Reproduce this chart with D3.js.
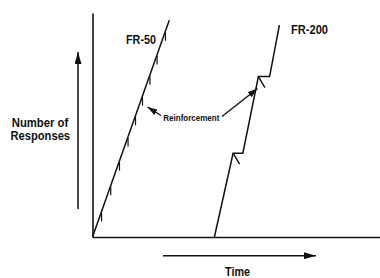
<!DOCTYPE html>
<html>
<head>
<meta charset="utf-8">
<script src="https://cdn.jsdelivr.net/npm/d3@7"></script>
<style>
  html, body { margin: 0; padding: 0; background: #fff; }
  svg { display: block; }
  text { font-family: "Liberation Sans Narrow", "Arial Narrow", "Liberation Sans", sans-serif; font-weight: bold; fill: #111; }
</style>
</head>
<body>
<svg id="chart" width="380" height="278"></svg>
<script>
// cumulative record, FR-50 schedule (time, cumulative responses)
const fr50Time = [0, 26.7];
const fr50Resp = [0, 484];
const fr50ReinfResp = [54, 112, 167, 221, 268, 312, 359, 404, 457];

// FR-200 schedule, flat parts are the pauses after reinforcement
const fr200Time = [42.4, 48.9, 52.3, 57.7, 61.6, 65.0];
const fr200Resp = [0, 187, 187, 358, 358, 473];
const fr200ReinfTime = [48.9, 57.7];
const fr200ReinfResp = [187, 358];

const labels = {
  fr50: "FR-50",
  fr200: "FR-200",
  yTitle: ["Number of", "Responses"],
  xTitle: "Time",
  reinf: "Reinforcement"
};

const svg = d3.select("#chart"),
  ink = "#111",
  origin = {x: 92.5, y: 237};

const x = d3.scaleLinear().domain([0, 100]).range([origin.x, 380]);
const y = d3.scaleLinear().domain([0, 500]).range([origin.y, 13]);

// arrowhead marker
const defs = svg.append("defs");
function addMarker(id, len, half) {
  defs.append("marker")
    .attr("id", id)
    .attr("markerUnits", "userSpaceOnUse")
    .attr("viewBox", "0 " + (-half) + " " + len + " " + (2 * half))
    .attr("refX", len)
    .attr("refY", 0)
    .attr("markerWidth", len)
    .attr("markerHeight", 2 * half)
    .attr("orient", "auto")
    .append("path")
    .attr("d", "M0," + (-half) + "L" + len + ",0L0," + half + "Z")
    .attr("fill", ink);
}
addMarker("bigHead", 12, 3.5);
addMarker("smallHead", 10, 3.2);

// axes without ticks
svg.append("g")
  .attr("transform", "translate(0," + origin.y + ")")
  .call(d3.axisBottom(x).ticks(0).tickSizeOuter(0))
  .call(g => g.select(".domain").attr("stroke", ink).attr("stroke-width", 1.6));

svg.append("g")
  .attr("transform", "translate(" + origin.x + ",0)")
  .call(d3.axisLeft(y).ticks(0).tickSizeOuter(0))
  .call(g => g.select(".domain").attr("stroke", ink).attr("stroke-width", 1.6));

const line = d3.line().x(d => x(d[0])).y(d => y(d[1]));

// FR-50 record
svg.append("path")
  .datum(d3.zip(fr50Time, fr50Resp))
  .attr("d", line)
  .attr("fill", "none")
  .attr("stroke", ink)
  .attr("stroke-width", 1.5);

const respToTime = d3.scaleLinear().domain(fr50Resp).range(fr50Time);
svg.selectAll(".tick50")
  .data(fr50ReinfResp)
  .enter().append("line")
  .attr("class", "tick50")
  .attr("x1", d => x(respToTime(d)) + 0.5)
  .attr("x2", d => x(respToTime(d)) + 0.5)
  .attr("y1", d => y(d))
  .attr("y2", d => y(d) + 8.5)
  .attr("stroke", ink)
  .attr("stroke-width", 1.2);

// FR-200 record
svg.append("path")
  .datum(d3.zip(fr200Time, fr200Resp))
  .attr("d", line)
  .attr("fill", "none")
  .attr("stroke", ink)
  .attr("stroke-width", 1.5)
  .attr("stroke-linejoin", "miter");

svg.selectAll(".tick200")
  .data(d3.zip(fr200ReinfTime, fr200ReinfResp))
  .enter().append("line")
  .attr("class", "tick200")
  .attr("x1", d => x(d[0]))
  .attr("y1", d => y(d[1]))
  .attr("x2", d => x(d[0]) + 6.5)
  .attr("y2", d => y(d[1]) + 11)
  .attr("stroke", ink)
  .attr("stroke-width", 1.4);

// labels
function label(txt, cx, base, size, width) {
  return svg.append("text")
    .attr("x", cx)
    .attr("y", base)
    .attr("text-anchor", "middle")
    .attr("font-size", size)
    .attr("textLength", width)
    .attr("lengthAdjust", "spacingAndGlyphs")
    .text(txt);
}
label(labels.fr50, 141, 43.5, 13, 30);
label(labels.fr200, 309.5, 33.5, 13, 37);
label(labels.yTitle[0], 40, 126.5, 12.5, 56.5);
label(labels.yTitle[1], 40.3, 139.5, 12.5, 59.5);
label(labels.xTitle, 237.5, 275.5, 12, 25);
label(labels.reinf, 191.3, 120.5, 9.5, 56);

// annotation arrows
svg.append("line")
  .attr("x1", 78).attr("y1", 209).attr("x2", 78).attr("y2", 52)
  .attr("stroke", ink).attr("stroke-width", 1.5)
  .attr("marker-end", "url(#bigHead)");

svg.append("line")
  .attr("x1", 163).attr("y1", 255.7).attr("x2", 316).attr("y2", 255.7)
  .attr("stroke", ink).attr("stroke-width", 1.5)
  .attr("marker-end", "url(#bigHead)");

svg.append("line")
  .attr("x1", 161).attr("y1", 115.5).attr("x2", 147.5).attr("y2", 107)
  .attr("stroke", ink).attr("stroke-width", 1.4)
  .attr("marker-end", "url(#smallHead)");

svg.append("line")
  .attr("x1", 222).attr("y1", 116.5).attr("x2", 257.5).attr("y2", 88.5)
  .attr("stroke", ink).attr("stroke-width", 1.4)
  .attr("marker-end", "url(#smallHead)");
</script>
</body>
</html>
